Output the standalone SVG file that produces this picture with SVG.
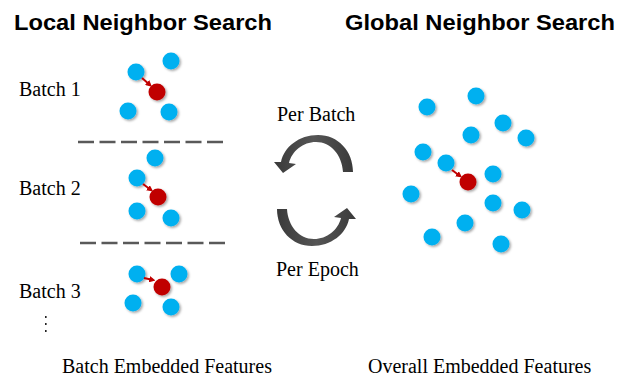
<svg xmlns="http://www.w3.org/2000/svg" xmlns:xlink="http://www.w3.org/1999/xlink" width="626" height="379" viewBox="0 0 626 379">
<style>
.title{font-family:"Liberation Sans",Arial,sans-serif;font-weight:bold;font-size:22px;fill:#000}
.lbl{font-family:"Liberation Serif","Times New Roman",serif;font-size:20px;fill:#000}
.b{fill:#00B0F0;filter:url(#sh)}
.r{fill:#C00000;filter:url(#sh)}
.dash{stroke:#595959;stroke-width:2.5;stroke-dasharray:16 5.5;fill:none}
.ra{stroke:#C00000;stroke-width:2;fill:none;marker-end:url(#ah)}
.cyc{fill:url(#gg)}
</style>
<defs>
<filter id="sh" x="-50%" y="-50%" width="200%" height="200%">
<feDropShadow dx="1.5" dy="1.5" stdDeviation="0.8" flood-color="#000" flood-opacity="0.35"/>
</filter>
<marker id="ah" viewBox="0 0 10 10" refX="6" refY="5" markerWidth="3.2" markerHeight="3.2" orient="auto">
<path d="M0 0 L10 5 L0 10 Z" fill="#C00000"/>
</marker>
<linearGradient id="gg" x1="0" y1="0" x2="1" y2="0">
<stop offset="0" stop-color="#3a3a3a"/>
<stop offset="0.5" stop-color="#555"/>
<stop offset="1" stop-color="#3a3a3a"/>
</linearGradient>
<path id="carc" d="M353 172 C353 151 338 135 318 135 C299 135 284 147 281 162 L274 162 L283 173 L296 164 L289 163 C292 151 303 142 316 142 C331 142 342 155 343 172 Z"/>
</defs>
<rect width="626" height="379" fill="#fff"/>
<g id="titles">
<text class="title" x="14" y="30" textLength="258" lengthAdjust="spacingAndGlyphs">Local Neighbor Search</text>
<text class="title" x="345" y="30" textLength="270" lengthAdjust="spacingAndGlyphs">Global Neighbor Search</text>
</g>
<g id="batch1">
<text class="lbl" x="19" y="96">Batch 1</text>
<circle class="b" cx="136" cy="72" r="8.5"/>
<circle class="b" cx="171" cy="61" r="8.5"/>
<circle class="b" cx="128" cy="111" r="8.5"/>
<circle class="b" cx="169" cy="112" r="8.5"/>
<circle class="r" cx="157" cy="92" r="8.5"/>
</g>
<g id="batch2">
<text class="lbl" x="19" y="195">Batch 2</text>
<circle class="b" cx="155" cy="158" r="8.5"/>
<circle class="b" cx="137" cy="178" r="8.5"/>
<circle class="b" cx="137" cy="211" r="8.5"/>
<circle class="b" cx="171" cy="218" r="8.5"/>
<circle class="r" cx="158" cy="197" r="8.5"/>
</g>
<g id="batch3">
<text class="lbl" x="19" y="298">Batch 3</text>
<circle class="b" cx="137" cy="274" r="8.5"/>
<circle class="b" cx="179" cy="274" r="8.5"/>
<circle class="b" cx="133" cy="303" r="8.5"/>
<circle class="b" cx="171" cy="307" r="8.5"/>
<circle class="r" cx="162" cy="287" r="8.5"/>
</g>
<g id="ellipsis" fill="#222">
<rect x="45" y="316" width="1.6" height="2"/>
<rect x="45" y="323" width="1.6" height="2"/>
<rect x="45" y="330" width="1.6" height="2"/>
</g>
<g id="separators">
<line class="dash" x1="78" y1="142" x2="224" y2="142"/>
<line class="dash" x1="80" y1="243" x2="227" y2="243"/>
</g>
<g id="global">
<circle class="b" cx="427" cy="107" r="8.5"/>
<circle class="b" cx="476" cy="96" r="8.5"/>
<circle class="b" cx="503" cy="123" r="8.5"/>
<circle class="b" cx="471" cy="135" r="8.5"/>
<circle class="b" cx="526" cy="138" r="8.5"/>
<circle class="b" cx="423" cy="152" r="8.5"/>
<circle class="b" cx="446" cy="163" r="8.5"/>
<circle class="b" cx="493" cy="174" r="8.5"/>
<circle class="b" cx="411" cy="194" r="8.5"/>
<circle class="b" cx="493" cy="203" r="8.5"/>
<circle class="b" cx="522" cy="210" r="8.5"/>
<circle class="b" cx="465" cy="223" r="8.5"/>
<circle class="b" cx="432" cy="237" r="8.5"/>
<circle class="b" cx="501" cy="244" r="8.5"/>
<circle class="r" cx="468" cy="182" r="8.5"/>
</g>
<g id="connectors">
<line class="ra" x1="142" y1="78" x2="150" y2="85"/>
<line class="ra" x1="143" y1="184" x2="151" y2="190"/>
<line class="ra" x1="144" y1="278" x2="153" y2="280"/>
<line class="ra" x1="452" y1="170" x2="460" y2="176"/>
<use xlink:href="#carc" class="cyc"/>
<use xlink:href="#carc" class="cyc" transform="rotate(180 315 190.5)"/>
</g>
<g id="cycle-labels">
<text class="lbl" x="277" y="121">Per Batch</text>
<text class="lbl" x="276" y="276">Per Epoch</text>
</g>
<g id="captions">
<text class="lbl" x="62" y="373">Batch Embedded Features</text>
<text class="lbl" x="368" y="373">Overall Embedded Features</text>
</g>
</svg>
